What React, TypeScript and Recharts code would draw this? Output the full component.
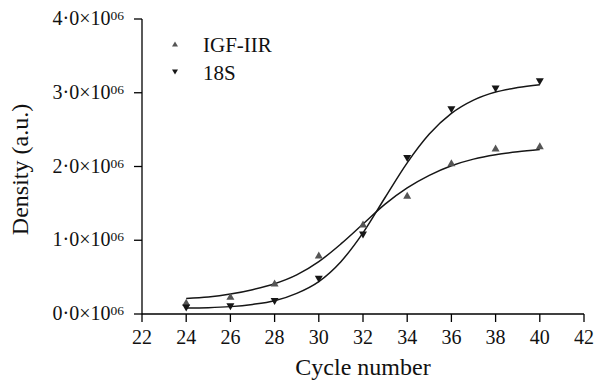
import { ComposedChart, Line, Scatter, XAxis, YAxis } from 'recharts';

// measured points (cycle number vs band density, a.u.)
const cycles = [24, 26, 28, 30, 32, 34, 36, 38, 40];
const igfDensity = [0.16, 0.24, 0.42, 0.8, 1.22, 1.61, 2.05, 2.25, 2.28];
const s18Density = [0.08, 0.1, 0.17, 0.47, 1.07, 2.11, 2.77, 3.05, 3.15];

// fitted sigmoid curves at each cycle
const fitCycles = [24, 25, 26, 27, 28, 29, 30, 31, 32, 33, 34, 35, 36, 37, 38, 39, 40];
const igfFit = [0.21, 0.23, 0.27, 0.33, 0.41, 0.53, 0.71, 0.95, 1.22, 1.49, 1.71, 1.88, 2.01, 2.1, 2.16, 2.2, 2.23];
const s18Fit = [0.08, 0.085, 0.1, 0.13, 0.18, 0.28, 0.44, 0.71, 1.1, 1.58, 2.05, 2.44, 2.72, 2.9, 3.01, 3.07, 3.11];

const xTicks = [22, 24, 26, 28, 30, 32, 34, 36, 38, 40, 42];
const yTicks = [0, 1, 2, 3, 4];
const SCALE = 1e6;

const FONT = 'Liberation Serif';
const GRAY = '#555555';
const BLACK = '#161616';

const toPoints = (xs: number[], ys: number[]) => xs.map((x, i) => ({ x, y: ys[i] * SCALE }));

const igfPts = toPoints(cycles, igfDensity);
const s18Pts = toPoints(cycles, s18Density);
const igfCurve = toPoints(fitCycles, igfFit);
const s18Curve = toPoints(fitCycles, s18Fit);

function triPath(cx: number, cy: number, w: number, h: number, down: boolean) {
  const s = down ? -1 : 1;
  return `${cx},${cy - (s * h) / 2} ${cx - w / 2},${cy + (s * h) / 2} ${cx + w / 2},${cy + (s * h) / 2}`;
}

const UpMark = (props: any) => <polygon points={triPath(props.cx, props.cy, 8, 7, false)} fill={GRAY} />;
const DownMark = (props: any) => <polygon points={triPath(props.cx, props.cy, 8, 7, true)} fill={BLACK} />;

const series = [
  { name: 'IGF-IIR', color: GRAY, down: false },
  { name: '18S', color: BLACK, down: true },
];

function YTick({ x, y, payload }: any) {
  const mant = (payload.value / SCALE).toFixed(1).replace('.', '·');
  return (
    <text x={x} y={y} textAnchor="end" style={{ fontFamily: FONT }} fontSize={20} fill="#111">
      <tspan dy={6}>{mant}×10</tspan>
      <tspan dy={-5} fontSize={13.5}>06</tspan>
    </text>
  );
}

function XTick({ x, y, payload }: any) {
  return (
    <text x={x} y={y} dy={14} textAnchor="middle" style={{ fontFamily: FONT }} fontSize={20} fill="#111">
      {payload.value}
    </text>
  );
}

export default function App() {
  return (
    <div style={{ position: 'absolute', left: 0, top: 0, width: 594, height: 382, background: '#fff' }}>
      <ComposedChart width={594} height={382} margin={{ top: 19, right: 10, bottom: 0, left: 0 }}>
        <XAxis
          dataKey="x"
          type="number"
          domain={[22, 42]}
          ticks={xTicks}
          allowDataOverflow
          height={68}
          tickSize={8}
          tickMargin={8}
          stroke="#000"
          strokeWidth={1.3}
          tick={<XTick />}
          label={{
            value: 'Cycle number',
            content: ({ viewBox, value }: any) => (
              <text
                x={viewBox.x + viewBox.width / 2}
                y={viewBox.y + 61}
                textAnchor="middle"
                style={{ fontFamily: FONT }}
                fontSize={24}
                fill="#111"
              >
                {value}
              </text>
            ),
          }}
        />
        <YAxis
          dataKey="y"
          type="number"
          domain={[0, 4 * SCALE]}
          ticks={yTicks.map((t) => t * SCALE)}
          width={142}
          tickSize={8}
          tickMargin={10}
          stroke="#000"
          strokeWidth={1.3}
          tick={<YTick />}
          label={{
            value: 'Density (a.u.)',
            content: ({ viewBox, value }: any) => {
              const cx = viewBox.x + 28;
              const cy = viewBox.y + viewBox.height / 2 + 3;
              return (
                <text
                  x={cx}
                  y={cy}
                  transform={`rotate(-90 ${cx} ${cy})`}
                  textAnchor="middle"
                  style={{ fontFamily: FONT }}
                  fontSize={24}
                  fill="#111"
                >
                  {value}
                </text>
              );
            },
          }}
        />
        <Line data={igfCurve} dataKey="y" type="monotone" stroke={BLACK} strokeWidth={1.5} dot={false} isAnimationActive={false} />
        <Line data={s18Curve} dataKey="y" type="monotone" stroke={BLACK} strokeWidth={1.5} dot={false} isAnimationActive={false} />
        <Scatter name="IGF-IIR" data={igfPts} shape={<UpMark />} isAnimationActive={false} />
        <Scatter name="18S" data={s18Pts} shape={<DownMark />} isAnimationActive={false} />
      </ComposedChart>
      <svg width={594} height={382} style={{ position: 'absolute', left: 0, top: 0, pointerEvents: 'none' }}>
        {series.map((s, i) => (
          <g key={s.name}>
            <polygon points={triPath(175, 44 + i * 28, 6, 5, s.down)} fill={s.color} />
            <text x={203} y={52 + i * 28} style={{ fontFamily: FONT }} fontSize={21} fill="#111">
              {s.name}
            </text>
          </g>
        ))}
      </svg>
    </div>
  );
}
